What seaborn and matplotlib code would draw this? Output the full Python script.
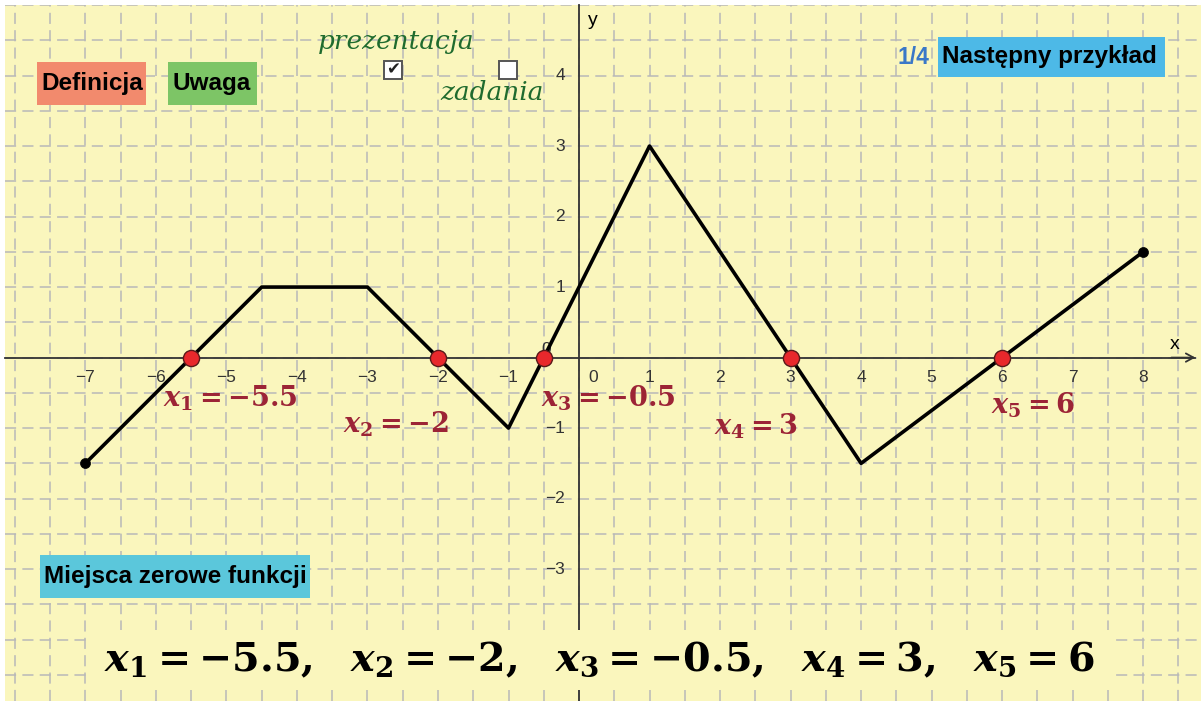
import matplotlib
matplotlib.use("Agg")
import matplotlib.pyplot as plt
from matplotlib.patches import Rectangle
from matplotlib.ticker import MultipleLocator
import pandas as pd
import seaborn as sns

W, H, DPI = 1201, 701, 100

# piecewise-linear function and its zeros
CURVE_X = [-7, -4.5, -3, -1, 1, 4, 8]
CURVE_Y = [-1.5, 1, 1, -1, 3, -1.5, 1.5]
END_X = [-7, 8]
END_Y = [-1.5, 1.5]
ZEROS = [-5.5, -2, -0.5, 3, 6]
X_TICKS = [-7, -6, -5, -4, -3, -2, -1, 1, 2, 3, 4, 5, 6, 7, 8]
Y_TICKS = [-3, -2, -1, 1, 2, 3, 4]

# label offsets (data units) relative to each zero
LABEL_SHIFT = [(-0.4, -0.57), (-1.34, -0.95), (-0.04, -0.57), (-1.08, -0.98), (-0.16, -0.68)]

XLIM = (-8.14, 8.82)
YLIM = (-4.87, 5.0)

BG = "#faf6bd"
GRID = "#b8b8b8"
AXIS = "#333333"
DARKRED = "#9c2436"
GREEN = "#1f6b2e"


def fx(px):
    return px / W


def fy(py):
    return 1 - py / H


def fmt(v):
    return f"{v:g}"


def button(fig, ax, x0, y0, x1, y1, color, text, size=17.5):
    ax.add_patch(Rectangle((fx(x0), fy(y1)), fx(x1) - fx(x0), fy(y0) - fy(y1),
                           transform=fig.transFigure, facecolor=color,
                           edgecolor="none", zorder=6, clip_on=False))
    ax.text(fx(x0 + 4), (fy(y0) + fy(y1)) / 2, text, transform=fig.transFigure,
            ha="left", va="center", fontsize=size, fontweight="bold",
            family="Liberation Sans", color="black", zorder=7)


def main():
    sns.set_style("white")
    plt.rcParams["font.family"] = ["Liberation Sans", "DejaVu Sans"]
    plt.rcParams["mathtext.fontset"] = "custom"
    plt.rcParams["mathtext.rm"] = "DejaVu Serif:bold"
    plt.rcParams["mathtext.it"] = "DejaVu Serif:italic:bold"
    plt.rcParams["mathtext.bf"] = "DejaVu Serif:bold"
    plt.rcParams["lines.scale_dashes"] = False

    fig = plt.figure(figsize=(W / DPI, H / DPI), dpi=DPI, facecolor="white")
    ax = fig.add_axes([fx(5), 0, 1 - fx(5), 1 - 5 / H])
    ax.set_facecolor(BG)

    # grid every 0.5
    ax.xaxis.set_major_locator(MultipleLocator(1))
    ax.yaxis.set_major_locator(MultipleLocator(1))
    ax.xaxis.set_minor_locator(MultipleLocator(0.5))
    ax.yaxis.set_minor_locator(MultipleLocator(0.5))
    ax.grid(which="both", color=GRID, linestyle=(0, (8, 4.5)), linewidth=1.1, zorder=0)
    ax.set_axisbelow(True)

    for side in ("top", "right"):
        ax.spines[side].set_visible(False)
    ax.spines["left"].set_position(("data", 0))
    ax.spines["bottom"].set_position(("data", 0))
    for side in ("left", "bottom"):
        ax.spines[side].set_color(AXIS)
        ax.spines[side].set_linewidth(1.3)
    ax.spines["bottom"].set_bounds(XLIM[0], 8.74)
    ax.tick_params(which="major", direction="inout", length=5, width=1, color=AXIS,
                   labelbottom=False, labelleft=False)
    ax.tick_params(which="minor", length=0)
    ax.annotate("", xy=(8.74, 0), xytext=(8.4, 0),
                arrowprops=dict(arrowstyle="->,head_length=0.55,head_width=0.3",
                                lw=1.3, color=AXIS, shrinkA=0, shrinkB=0), zorder=3)

    # tick labels
    for v in X_TICKS:
        ax.text(v, -0.28, f"{v}".replace("-", "\u2212"), ha="center", va="center",
                fontsize=12.5, color=AXIS)
    ax.text(0.2, -0.28, "0", ha="center", va="center", fontsize=12.5, color=AXIS)
    for v in Y_TICKS:
        ax.text(-0.2, v, f"{v}".replace("-", "\u2212"), ha="right", va="center",
                fontsize=12.5, color=AXIS)
    ax.text(-0.46, 0.12, "0", ha="center", va="center", fontsize=12.5, color=AXIS)
    ax.text(8.45, 0.18, "x", ha="center", va="center", fontsize=14, color="black")
    ax.text(0.19, 4.78, "y", ha="center", va="center", fontsize=14, color="black")

    # function graph
    curve = pd.DataFrame({"x": CURVE_X, "y": CURVE_Y})
    sns.lineplot(data=curve, x="x", y="y", sort=False, estimator=None, ax=ax,
                 color="black", linewidth=2.6, zorder=4)
    sns.scatterplot(x=END_X, y=END_Y, ax=ax, color="black", s=52,
                    edgecolor="black", linewidth=0.5, zorder=5)
    sns.scatterplot(x=ZEROS, y=[0] * len(ZEROS), ax=ax, color="#e8282c", s=135,
                    edgecolor="#5a1a1a", linewidth=1.0, zorder=5)

    for i, (z, (dx, dy)) in enumerate(zip(ZEROS, LABEL_SHIFT), start=1):
        ax.text(z + dx, dy, rf"$x_{i} = {fmt(z)}$", ha="left", va="center",
                fontsize=19.5, color=DARKRED, zorder=6)

    ax.set_xlim(*XLIM)
    ax.set_ylim(*YLIM)
    ax.set_xlabel("")
    ax.set_ylabel("")

    # buttons
    button(fig, ax, 37, 62, 146, 105, "#f28a6d", "Definicja")
    button(fig, ax, 168, 62, 257, 105, "#7dc566", "Uwaga")
    button(fig, ax, 938, 37, 1165, 77, "#4db9e7", "Następny przykład")
    button(fig, ax, 40, 555, 310, 598, "#5bc7db", "Miejsca zerowe funkcji")
    ax.text(fx(913), fy(57), "1/4", transform=fig.transFigure, ha="center",
            va="center", fontsize=16.5, fontweight="bold", color="#3a78c8", zorder=7)

    # check boxes
    for (cx, checked) in ((393, True), (508, False)):
        ax.add_patch(Rectangle((fx(cx - 9), fy(79)), fx(18), 18 / H,
                               transform=fig.transFigure, facecolor="white",
                               edgecolor="#555555", linewidth=1.4, zorder=6,
                               clip_on=False))
        if checked:
            ax.text(fx(cx), fy(69), "\u2714", transform=fig.transFigure,
                    ha="center", va="center", fontsize=12, family="DejaVu Sans",
                    color="#222222", zorder=7)
    ax.text(fx(318), fy(41), "prezentacja", transform=fig.transFigure, ha="left",
            va="center", fontsize=19, style="italic", family="DejaVu Serif",
            color=GREEN, zorder=7)
    ax.text(fx(440), fy(92), "zadania", transform=fig.transFigure, ha="left",
            va="center", fontsize=19, style="italic", family="DejaVu Serif",
            color=GREEN, zorder=7)

    # summary line at the bottom
    ax.add_patch(Rectangle((fx(90), fy(690)), fx(1115) - fx(90), 60 / H,
                           transform=fig.transFigure, facecolor=BG,
                           edgecolor="none", zorder=6, clip_on=False))
    summary = r",\ \ ".join(rf"x_{i} = {fmt(z)}" for i, z in enumerate(ZEROS, start=1))
    ax.text(fx(599), fy(660), f"${summary}$", transform=fig.transFigure,
            ha="center", va="center", fontsize=28.5, color="black", zorder=7)

    fig.savefig("out.png", dpi=DPI, facecolor="white")


if __name__ == "__main__":
    main()
